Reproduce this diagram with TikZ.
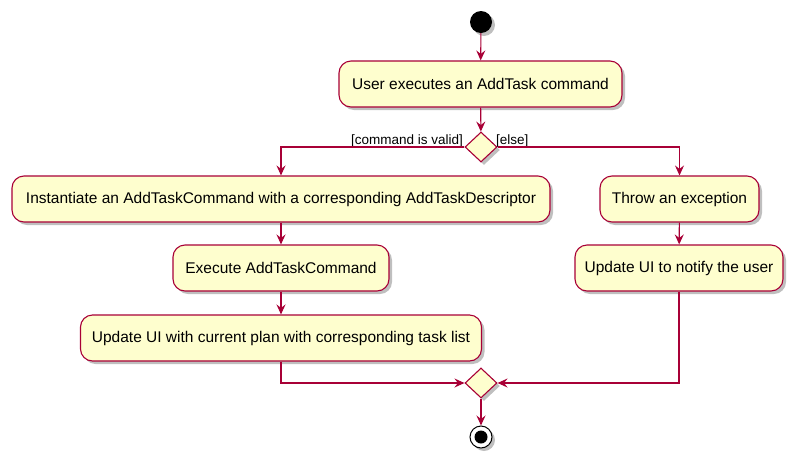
\documentclass[tikz,border=0pt]{standalone}
\usepackage{fontspec}
\setmainfont{Liberation Sans}
\usetikzlibrary{shapes.geometric,arrows.meta,shadows}
\definecolor{pfill}{HTML}{FEFECE}
\definecolor{pline}{HTML}{A80036}
\tikzset{
  shad/.style={drop shadow={shadow xshift=3pt,shadow yshift=-3pt,opacity=0.25,fill=black}},
  act/.style={draw=pline,fill=pfill,line width=1.1pt,rounded corners=12pt,minimum height=46pt,inner sep=0pt,font=\fontsize{15.5}{18}\selectfont,shad},
  dia/.style={diamond,draw=pline,fill=pfill,line width=1.1pt,minimum width=32pt,minimum height=30pt,inner sep=0pt,shad},
  arr/.style={draw=pline,line width=1.1pt,-{Stealth[length=10pt,width=9pt,inset=3.5pt]}},
  lin/.style={draw=pline,line width=1.1pt},
  guard/.style={font=\fontsize{13.5}{16}\selectfont,inner sep=0pt},
  startnode/.style={circle,fill=black,minimum size=22pt,inner sep=0pt,shad},
  endnode/.style={circle,draw=black,fill=white,line width=1pt,minimum size=22pt,inner sep=0pt,shad}
}
\begin{document}
\begin{tikzpicture}[x=1pt,y=-1pt]
\useasboundingbox (0,0) rectangle (796,464);
\node[startnode] (start) at (481,22) {};
\node[act,minimum width=283pt] (b1) at (480.5,84) {User executes an AddTask command};
\node[dia] (d1) at (481,147) {};
\node[act,minimum width=538pt] (b2) at (281,199) {Instantiate an AddTaskCommand with a corresponding AddTaskDescriptor};
\node[act,minimum width=216pt] (b3) at (281,268) {Execute AddTaskCommand};
\node[act,minimum width=401pt] (b4) at (281,338) {Update UI with current plan with corresponding task list};
\node[act,minimum width=159pt] (b5) at (679.5,199) {Throw an exception};
\node[act,minimum width=208pt] (b6) at (679,268) {Update UI to notify the user};
\node[dia] (d2) at (481,383) {};
\node[endnode] (stop) at (481,437) {};
\fill[black] (stop.center) circle (6.5pt);
\node[guard,anchor=base east] (g1) at (463,144) {[command is valid]};
\node[guard,anchor=base west] (g2) at (496,144) {[else]};
\draw[arr] (start) -- (b1);
\draw[arr] (b1) -- (d1);
\draw[arr] (d1.west) -| (b2.north);
\draw[arr] (d1.east) -| (b5.north);
\draw[arr] (b2) -- (b3);
\draw[arr] (b3) -- (b4);
\draw[arr] (b5) -- (b6);
\draw[arr] (b4.south) |- (d2.west);
\draw[arr] (b6.south) |- (d2.east);
\draw[arr] (d2) -- (stop);
\end{tikzpicture}
\end{document}
